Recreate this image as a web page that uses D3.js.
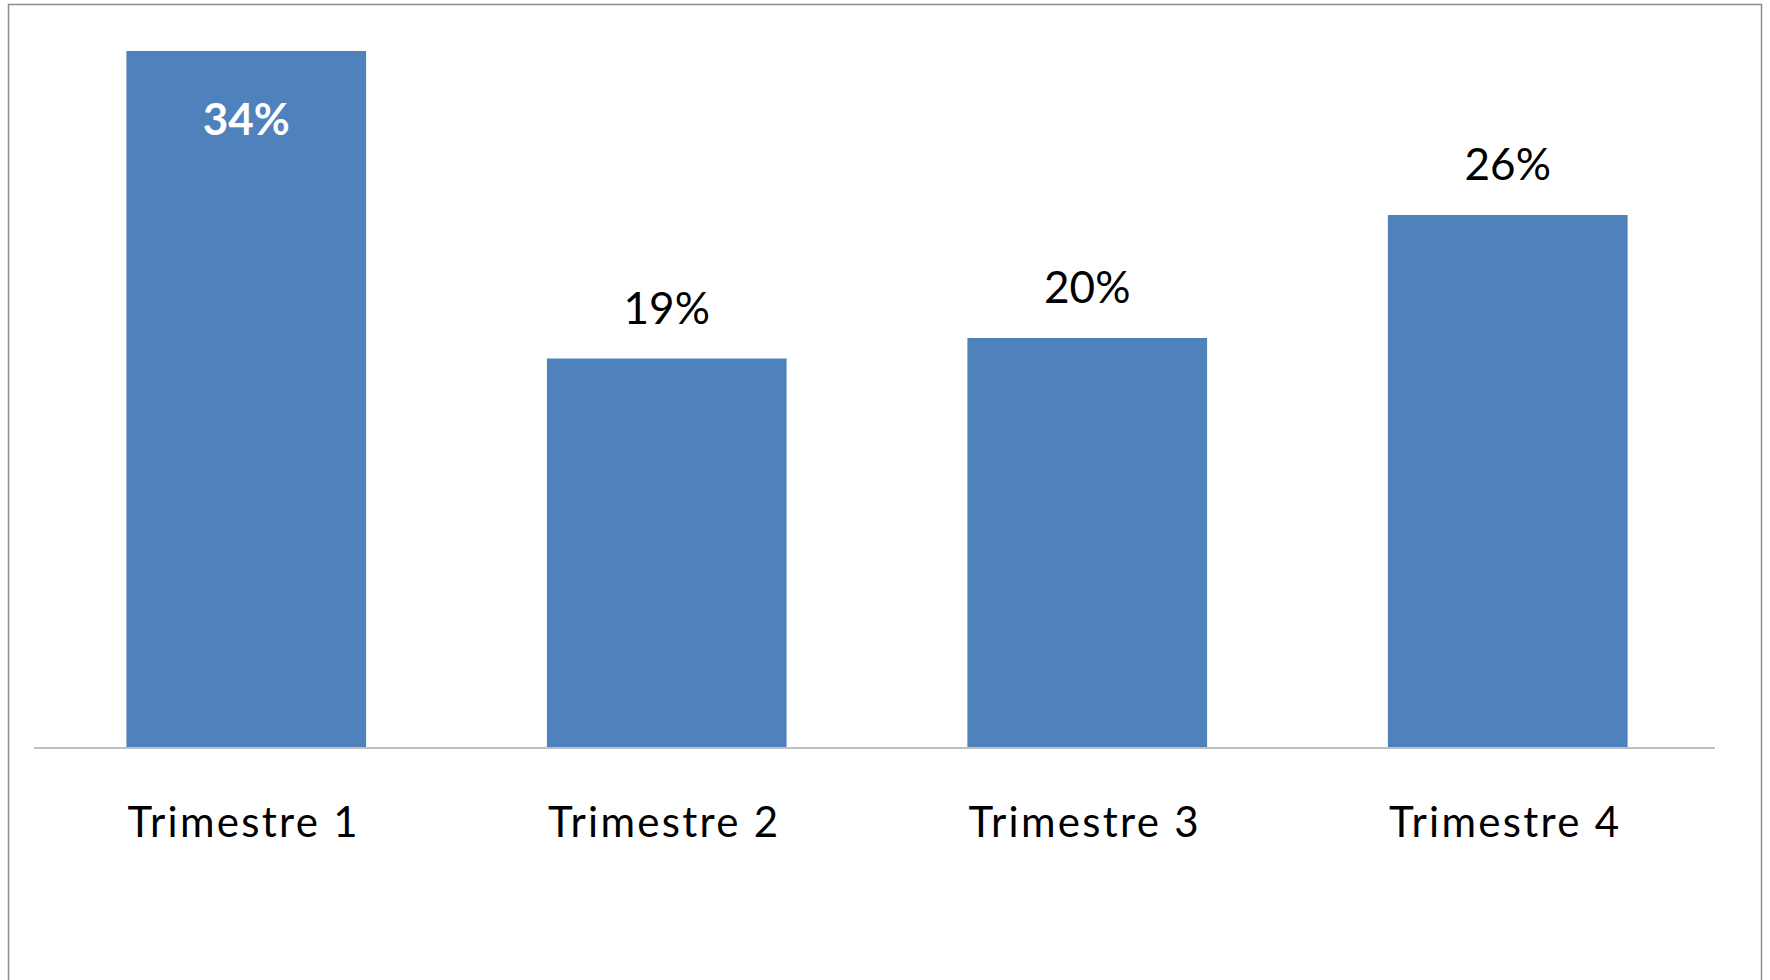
<!DOCTYPE html>
<html>
<head>
<meta charset="utf-8">
<script src="https://cdn.jsdelivr.net/npm/d3@7"></script>
<style>
  html, body { margin: 0; padding: 0; background: #ffffff; }
  svg { display: block; }
</style>
</head>
<body>
<svg id="chart" width="1770" height="980"></svg>
<script>
// Quarterly share, in percent
const categories = ["Trimestre 1", "Trimestre 2", "Trimestre 3", "Trimestre 4"];
const values = [34, 19, 20, 26];
const labels = ["34%", "19%", "20%", "26%"];

const svg = d3.select("#chart");
const W = 1770, H = 980;
const baseY = 748;
const font = "Lato, 'Open Sans', sans-serif";

// outer frame
svg.append("rect")
  .attr("x", 8.5).attr("y", 4.5)
  .attr("width", 1753).attr("height", H + 20)
  .attr("fill", "#ffffff")
  .attr("stroke", "#8c8c8c")
  .attr("stroke-width", 1.5);

const x = d3.scaleBand()
  .domain(categories)
  .range([36, 1718])
  .paddingInner(0.43)
  .paddingOuter(0.215);

const y = d3.scaleLinear()
  .domain([0, 34])
  .range([baseY, 51]);

// bars
svg.append("g").selectAll("rect")
  .data(values)
  .join("rect")
  .attr("x", (d, i) => x(categories[i]))
  .attr("y", d => y(d))
  .attr("width", x.bandwidth())
  .attr("height", d => y(0) - y(d))
  .attr("fill", "#4f81bd");

// baseline
svg.append("line")
  .attr("x1", 34).attr("x2", 1715)
  .attr("y1", baseY).attr("y2", baseY)
  .attr("stroke", "#bfbfbf")
  .attr("stroke-width", 2);

// value labels: the tallest bar carries its label inside, in bold white
svg.append("g").selectAll("text")
  .data(values)
  .join("text")
  .attr("x", (d, i) => x(categories[i]) + x.bandwidth() / 2)
  .attr("y", (d, i) => i === 0 ? y(d) + 84 : y(d) - 35)
  .attr("text-anchor", "middle")
  .attr("font-family", font)
  .attr("font-size", 44)
  .attr("font-weight", (d, i) => i === 0 ? 700 : 400)
  .attr("fill", (d, i) => i === 0 ? "#ffffff" : "#000000")
  .text((d, i) => labels[i]);

// category axis labels
svg.append("g").selectAll("text")
  .data(categories)
  .join("text")
  .attr("x", d => x(d) + x.bandwidth() / 2 - 2.5)
  .attr("y", 837)
  .attr("text-anchor", "middle")
  .attr("font-family", font)
  .attr("font-size", 42)
  .attr("letter-spacing", 2.3)
  .attr("fill", "#000000")
  .text(d => d);
</script>
</body>
</html>
